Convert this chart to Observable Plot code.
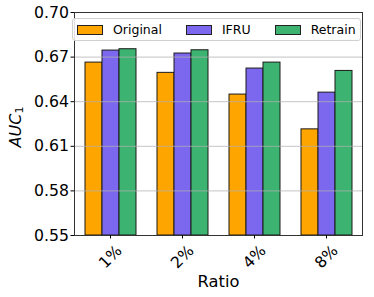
<!DOCTYPE html>
<html>
<head>
<meta charset="utf-8">
<script src="https://cdn.jsdelivr.net/npm/d3@7"></script>
<script src="https://cdn.jsdelivr.net/npm/@observablehq/plot@0.6"></script>
<style>
  html, body { margin: 0; padding: 0; background: #fff; }
  #wrap { position: relative; width: 374px; height: 297px; font-family: "DejaVu Sans", sans-serif; }
  #legend { position: absolute; left: 72px; top: 18px; width: 287px; height: 21px; border: 1px solid #d0d0d0; border-radius: 3px; background: rgba(255,255,255,0.85); display: flex; align-items: center; font-size: 12.5px; color: #000; box-sizing: content-box; }
  .item { display: flex; align-items: center; margin-left: 4px; margin-right: 20px; }
  .item:last-child { margin-right: 0; }
  .sw { width: 24px; height: 8px; border: 1px solid #222; margin-right: 10px; }
  #ylab { position: absolute; left: 16px; top: 127px; transform: translate(-50%, -50%) rotate(-90deg); font-size: 16px; white-space: nowrap; color: #000; }
  #ylab i { font-style: italic; }
  #ylab sub { font-size: 11px; vertical-align: -2px; }
</style>
</head>
<body>
<div id="wrap"></div>
<script>
const categories = ["1%", "2%", "4%", "8%"];
const methods = ["Original", "IFRU", "Retrain"];
const original = [0.6663, 0.6594, 0.6448, 0.6214];
const ifru = [0.6744, 0.6724, 0.6623, 0.6461];
const retrain = [0.6753, 0.6746, 0.6663, 0.6607];
const colors = ["#FFA500", "#7B68EE", "#3CB371"];
const yTicks = [0.55, 0.58, 0.61, 0.64, 0.67, 0.70];
const yDomain = [0.55, 0.70];
const xLabel = "Ratio";

const valuesBy = {Original: original, IFRU: ifru, Retrain: retrain};
const data = categories.flatMap((c, i) => methods.map(m => ({ratio: c, method: m, auc: valuesBy[m][i]})));
const grid = categories.flatMap(c => yTicks.slice(1, -1).map(v => ({ratio: c, v})));

const chart = Plot.plot({
  width: 374,
  height: 297,
  marginLeft: 67,
  marginRight: 5,
  marginTop: 12,
  marginBottom: 62,
  style: {fontFamily: "DejaVu Sans, sans-serif", fontSize: "15.5px", color: "#000", background: "#fff"},
  fx: {domain: categories, paddingInner: 0, paddingOuter: 0.0875, label: null},
  x: {domain: methods, paddingInner: 0, paddingOuter: 0.511, axis: null},
  y: {domain: yDomain, label: null},
  color: {domain: methods, range: colors},
  marks: [
    Plot.barY(data, {fx: "ratio", x: "method", y1: yDomain[0], y2: "auc", fill: "method", stroke: "#1a1a1a", strokeWidth: 1}),
    Plot.ruleY(grid, {fx: "ratio", y: "v", stroke: "#b0b0b0", strokeOpacity: 0.75, strokeWidth: 1}),
    Plot.frame({stroke: "#333", strokeWidth: 1, facet: "super"}),
    Plot.axisY({ticks: yTicks, tickFormat: d3.format(".2f"), tickSize: 3.5, tickPadding: 2, label: null, fontSize: 15.7}),
    Plot.axisFx({anchor: "bottom", tickSize: 3.5, tickRotate: -45, textAnchor: "middle", lineAnchor: "middle", tickPadding: 18, label: null, fontSize: 15.7}),
    Plot.text([xLabel], {text: d => d, frameAnchor: "bottom", lineAnchor: "middle", dy: 46, fontSize: 16.3, facet: "super"})
  ]
});

const wrap = document.getElementById("wrap");
wrap.appendChild(chart);

const legend = document.createElement("div");
legend.id = "legend";
methods.forEach((m, i) => {
  const item = document.createElement("div");
  item.className = "item";
  const sw = document.createElement("div");
  sw.className = "sw";
  sw.style.background = colors[i];
  const t = document.createElement("span");
  t.textContent = m;
  item.appendChild(sw);
  item.appendChild(t);
  legend.appendChild(item);
});
wrap.appendChild(legend);

const ylab = document.createElement("div");
ylab.id = "ylab";
ylab.innerHTML = "<i>AUC</i><sub>1</sub>";
wrap.appendChild(ylab);
</script>
</body>
</html>
